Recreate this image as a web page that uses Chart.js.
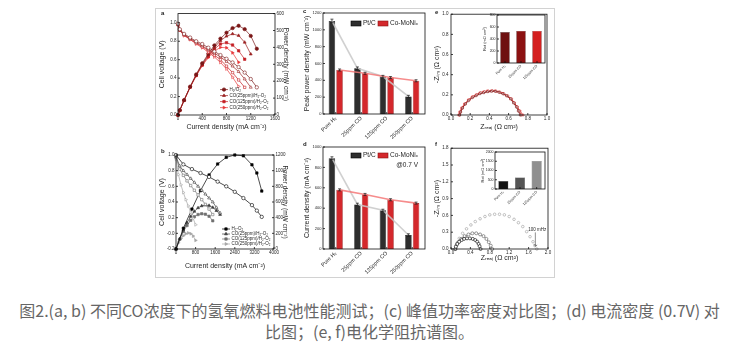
<!DOCTYPE html>
<html lang="zh">
<head>
<meta charset="UTF-8">
<title>CO tolerance figure</title>
<script src="https://cdn.jsdelivr.net/npm/chart.js"></script>
<style>
  body { margin: 0; width: 739px; height: 346px; background: #fff; position: relative; overflow: hidden; }
  #fig { position: absolute; left: 155px; top: 8px; width: 398px; height: 268px; border: 1px solid #d2d2d2; }
  canvas { position: absolute; }
  .tag { position: absolute; font: bold 6px "Liberation Sans", Arial, sans-serif; color: #222; }
  #cap { position: absolute; left: 0; top: 300px; width: 739px; text-align: center;
         font: 16px/21px "Noto Sans CJK SC", sans-serif; color: #666; }
</style>
</head>
<body>
<div id="fig"></div>
<canvas id="ca" width="140" height="134" style="left:156px;top:9px"></canvas>
<canvas id="cb" width="140" height="134" style="left:156px;top:143px"></canvas>
<canvas id="cc" width="140" height="134" style="left:290px;top:9px"></canvas>
<canvas id="cd" width="140" height="134" style="left:290px;top:143px"></canvas>
<canvas id="ce" width="125" height="134" style="left:430px;top:9px"></canvas>
<canvas id="cf" width="125" height="134" style="left:430px;top:143px"></canvas>
<canvas id="ce2" width="76" height="75" style="left:478px;top:10px"></canvas>
<canvas id="cf2" width="76" height="75" style="left:476px;top:147px"></canvas>
<div class="tag" style="left:161px;top:10px">a</div>
<div class="tag" style="left:161px;top:148px">b</div>
<div class="tag" style="left:303px;top:8px">c</div>
<div class="tag" style="left:303px;top:141px">d</div>
<div class="tag" style="left:435px;top:9px">e</div>
<div class="tag" style="left:435px;top:141px">f</div>
<div id="cap">图2.(a, b) 不同CO浓度下的氢氧燃料电池性能测试；(c) 峰值功率密度对比图；(d) 电流密度 (0.7V) 对<br>比图；(e, f)电化学阻抗谱图。</div>
<script>
// ---- panel a : Co-MoNix anode under different CO levels ----
const seriesA = ['H₂/O₂', 'CO(25ppm)/H₂-O₂', 'CO(125ppm)/H₂-O₂', 'CO(250ppm)/H₂-O₂'];
const aI0 = [0, 30, 100, 200, 300, 400, 500, 600, 700, 800, 900, 1000, 1100, 1200, 1300];
const aV0 = [0.99, 0.93, 0.88, 0.84, 0.80, 0.77, 0.73, 0.69, 0.65, 0.61, 0.57, 0.52, 0.46, 0.39, 0.30];
const aP0 = [0, 28, 88, 168, 240, 306, 362, 412, 452, 487, 514, 528, 508, 468, 392];
const aI1 = [0, 30, 100, 200, 300, 400, 500, 600, 700, 800, 900, 1000, 1100, 1200];
const aV1 = [0.98, 0.92, 0.87, 0.83, 0.79, 0.75, 0.71, 0.67, 0.63, 0.58, 0.53, 0.47, 0.39, 0.30];
const aP1 = [0, 28, 87, 166, 237, 300, 355, 400, 440, 466, 480, 470, 430, 360];
const aI2 = [0, 30, 100, 200, 300, 400, 500, 600, 700, 800, 900, 1000, 1100];
const aV2 = [0.98, 0.92, 0.87, 0.82, 0.78, 0.74, 0.70, 0.65, 0.60, 0.53, 0.46, 0.38, 0.30];
const aP2 = [0, 28, 87, 164, 234, 296, 348, 390, 420, 428, 414, 380, 330];
const aI3 = [0, 30, 100, 200, 300, 400, 500, 600, 700, 800, 900, 1000];
const aV3 = [0.98, 0.92, 0.86, 0.82, 0.77, 0.73, 0.68, 0.63, 0.57, 0.50, 0.41, 0.31];
const aP3 = [0, 28, 86, 164, 231, 292, 340, 378, 400, 398, 368, 312];

// ---- panel b : Pt/C anode ----
const seriesB = ['H₂-O₂', 'CO(25ppm)/H₂-O₂', 'CO(125ppm)/H₂-O₂', 'CO(250ppm)/H₂-O₂'];
const bI0 = [0, 300, 650, 1000, 1350, 1700, 2050, 2400, 2750, 3100, 3300, 3500];
const bV0 = [1.00, 0.88, 0.82, 0.77, 0.72, 0.66, 0.60, 0.53, 0.45, 0.36, 0.29, 0.21];
const bP0 = [0, 265, 510, 745, 945, 1085, 1170, 1200, 1190, 1075, 970, 740];
const bI1 = [0, 150, 300, 450, 600, 750, 900, 1050, 1200, 1350, 1500, 1650, 1800];
const bV1 = [0.98, 0.86, 0.80, 0.75, 0.70, 0.65, 0.60, 0.55, 0.50, 0.45, 0.40, 0.33, 0.26];
const bP1 = [0, 130, 240, 335, 415, 480, 525, 550, 560, 555, 530, 490, 440];
const bI2 = [0, 150, 300, 450, 600, 750, 900, 1050, 1200, 1350, 1500];
const bV2 = [0.97, 0.82, 0.74, 0.67, 0.61, 0.55, 0.49, 0.43, 0.37, 0.31, 0.24];
const bP2 = [0, 123, 222, 300, 366, 412, 440, 450, 444, 418, 360];
const bI3 = [0, 100, 200, 300, 400, 500, 600, 700, 800];
const bV3 = [0.95, 0.75, 0.62, 0.52, 0.43, 0.35, 0.27, 0.19, 0.11];
const bP3 = [0, 80, 135, 170, 195, 205, 195, 165, 110];

// ---- panels c, d : bar comparison ----
const barCats = ['Pure H₂', '25ppm CO', '125ppm CO', '250ppm CO'];
const barSeries = ['Pt/C', 'Co-MoNiₓ'];
const cPt = [1105, 543, 445, 208];
const cPtErr = [22, 16, 14, 14];
const cCo = [523, 484, 433, 395];
const cCoErr = [12, 12, 12, 12];
const dPt = [890, 437, 380, 137];
const dPtErr = [14, 12, 10, 12];
const dCo = [580, 535, 483, 450];
const dCoErr = [10, 10, 10, 10];

// ---- panel e : Nyquist, Co-MoNix ----
const eZr0 = [0.09, 0.10, 0.12, 0.15, 0.18, 0.22, 0.26, 0.30, 0.34, 0.38, 0.42, 0.46, 0.50, 0.54, 0.58, 0.62, 0.65, 0.68, 0.70, 0.72];
const eZi0 = [0.00, 0.03, 0.07, 0.11, 0.14, 0.17, 0.19, 0.21, 0.22, 0.23, 0.235, 0.235, 0.225, 0.21, 0.19, 0.16, 0.12, 0.08, 0.04, 0.00];
const eZr1 = [0.09, 0.10, 0.12, 0.15, 0.19, 0.23, 0.27, 0.31, 0.35, 0.39, 0.43, 0.47, 0.51, 0.55, 0.59, 0.63, 0.66, 0.69, 0.71, 0.73];
const eZi1 = [0.00, 0.03, 0.07, 0.11, 0.15, 0.18, 0.20, 0.22, 0.23, 0.235, 0.24, 0.235, 0.225, 0.21, 0.19, 0.16, 0.12, 0.08, 0.04, 0.00];
const eZr2 = [0.08, 0.09, 0.11, 0.14, 0.18, 0.22, 0.26, 0.30, 0.34, 0.38, 0.42, 0.46, 0.50, 0.54, 0.58, 0.62, 0.66, 0.69, 0.72, 0.75];
const eZi2 = [0.00, 0.03, 0.07, 0.11, 0.15, 0.18, 0.20, 0.22, 0.23, 0.24, 0.24, 0.24, 0.23, 0.215, 0.19, 0.16, 0.12, 0.08, 0.04, 0.00];

// ---- panel f : Nyquist, Pt/C ----
const fZr0 = [0.09, 0.10, 0.13, 0.17, 0.22, 0.27, 0.33, 0.39, 0.45, 0.50, 0.54, 0.57, 0.59, 0.61];
const fZi0 = [0.00, 0.04, 0.09, 0.13, 0.16, 0.18, 0.19, 0.19, 0.18, 0.16, 0.13, 0.09, 0.05, 0.00];
const fZr1 = [0.09, 0.11, 0.15, 0.21, 0.28, 0.36, 0.44, 0.52, 0.60, 0.67, 0.73, 0.78, 0.82, 0.85];
const fZi1 = [0.00, 0.06, 0.12, 0.18, 0.23, 0.26, 0.28, 0.28, 0.26, 0.23, 0.18, 0.12, 0.06, 0.00];
const fZr2 = [0.09, 0.12, 0.17, 0.24, 0.32, 0.41, 0.50, 0.60, 0.70, 0.80, 0.90, 1.00, 1.10, 1.20, 1.30, 1.39, 1.48, 1.56, 1.63, 1.69, 1.73, 1.77];
const fZi2 = [0.00, 0.10, 0.19, 0.28, 0.36, 0.43, 0.49, 0.54, 0.58, 0.61, 0.62, 0.62, 0.61, 0.58, 0.53, 0.47, 0.40, 0.31, 0.22, 0.13, 0.06, 0.00];
const fNote = { text: '100 mHz', x: 1.78, y: 0.35, tipX: 1.74, tipY: 0.05 };

// ---- insets : charge-transfer resistance ----
const insetCats = ['Pure H₂', '25ppm CO', '125ppm CO'];
const eRct = [515, 535, 535];
const fRct = [430, 620, 1520];

const FONT = '"Liberation Sans", Arial, sans-serif';
const INK = '#262626';
const reds = ['#7a1717', '#9b2020', '#c41e24', '#e8383a'];
const greys = ['#000000', '#3c3c3c', '#707070', '#a5a5a5'];
const shapes = ['circle', 'triangle', 'rect', 'triangle'];
const turns = [0, 0, 0, 90];

// plot box with inward ticks, like Origin
const frame = {
  id: 'frame',
  afterDraw(chart) {
    const ctx = chart.ctx, a = chart.chartArea;
    ctx.save();
    ctx.strokeStyle = '#111';
    ctx.lineWidth = 0.8;
    ctx.strokeRect(a.left, a.top, a.right - a.left, a.bottom - a.top);
    Object.values(chart.scales).forEach(s => {
      s.ticks.forEach((t, i) => {
        const p = s.getPixelForTick(i);
        ctx.beginPath();
        if (s.position === 'left') { ctx.moveTo(a.left, p); ctx.lineTo(a.left + 2, p); }
        else if (s.position === 'right') { ctx.moveTo(a.right, p); ctx.lineTo(a.right - 2, p); }
        else { ctx.moveTo(p, a.bottom); ctx.lineTo(p, a.bottom - 2); }
        ctx.stroke();
      });
    });
    ctx.restore();
  }
};

// small legends drawn inside the plot area
const keyLegend = {
  id: 'keyLegend',
  afterDraw(chart, args, o) {
    if (!o || !o.items) return;
    const ctx = chart.ctx, area = chart.chartArea;
    ctx.save();
    ctx.font = (o.size || 4.5) + 'px ' + FONT;
    ctx.textBaseline = 'middle';
    o.items.forEach(it => {
      const x = area.left + it.x, y = area.top + it.y;
      let tx = x;
      if (it.ds !== undefined) {
        const ds = chart.data.datasets[it.ds];
        ctx.strokeStyle = ds.borderColor;
        ctx.lineWidth = 0.7;
        ctx.beginPath(); ctx.moveTo(x, y); ctx.lineTo(x + o.w, y); ctx.stroke();
        ctx.fillStyle = ds.pointBackgroundColor;
        ctx.strokeStyle = ds.pointBorderColor;
        Chart.helpers.drawPoint(ctx, { pointStyle: ds.pointStyle, rotation: ds.pointRotation,
          radius: ds.pointRadius, borderWidth: ds.pointBorderWidth }, x + o.w / 2, y);
        tx = x + o.w + 1.5;
      } else if (it.box) {
        ctx.fillStyle = it.box;
        ctx.fillRect(x, y - o.h / 2, o.w, o.h);
        ctx.strokeStyle = it.edge;
        ctx.lineWidth = 0.6;
        ctx.strokeRect(x, y - o.h / 2, o.w, o.h);
        tx = x + o.w + 2;
      }
      ctx.fillStyle = INK;
      ctx.textAlign = it.align || 'left';
      ctx.fillText(it.text, tx, y);
    });
    ctx.restore();
  }
};

// trend lines through bar tops and error bars
const barMarks = {
  id: 'barMarks',
  afterDatasetsDraw(chart) {
    const ctx = chart.ctx;
    ctx.save();
    chart.data.datasets.forEach((ds, i) => {
      if (!ds.trend) return;
      const meta = chart.getDatasetMeta(i);
      ctx.strokeStyle = ds.trend;
      ctx.lineWidth = 1.6;
      ctx.beginPath();
      meta.data.forEach((b, j) => j ? ctx.lineTo(b.x, b.y) : ctx.moveTo(b.x, b.y));
      ctx.stroke();
    });
    chart.data.datasets.forEach((ds, i) => {
      if (!ds.err) return;
      const meta = chart.getDatasetMeta(i);
      const ys = chart.scales[meta.yAxisID];
      ctx.strokeStyle = '#1a1a1a';
      ctx.lineWidth = 0.7;
      meta.data.forEach((b, j) => {
        const t = ys.getPixelForValue(ds.data[j] + ds.err[j]);
        const u = ys.getPixelForValue(ds.data[j] - ds.err[j]);
        ctx.beginPath();
        ctx.moveTo(b.x, t); ctx.lineTo(b.x, u);
        ctx.moveTo(b.x - 1.5, t); ctx.lineTo(b.x + 1.5, t);
        ctx.moveTo(b.x - 1.5, u); ctx.lineTo(b.x + 1.5, u);
        ctx.stroke();
      });
    });
    ctx.restore();
  }
};

Chart.register(frame, keyLegend, barMarks);

function ax(o) {
  const vertical = o.pos === 'left' || o.pos === 'right';
  const a = {
    type: o.type || 'linear',
    position: o.pos,
    grid: { display: false, drawTicks: false },
    border: { display: false },
    ticks: {
      padding: o.tpad !== undefined ? o.tpad : 1.5,
      color: INK,
      font: { family: FONT, size: o.fs || 4.5 },
      autoSkip: false,
      maxRotation: o.rot || 0,
      minRotation: o.rot || 0
    },
    title: {
      display: !!o.title,
      text: o.title || '',
      color: INK,
      font: { family: FONT, size: o.tfs || 7 },
      padding: vertical ? { top: o.tp || 0, bottom: 0 } : { top: 0, bottom: o.tp || 0 }
    },
    afterFit: s => { if (vertical) s.width = o.size; else s.height = o.size; }
  };
  if (a.type === 'linear') {
    a.min = o.min;
    a.max = o.max;
    a.ticks.stepSize = o.step;
    a.ticks.includeBounds = false;
    a.ticks.callback = v => v.toFixed(o.dec);
  }
  return a;
}

function curve(xs, ys, axis, color, shape, rot, filled, r) {
  return {
    data: xs.map((x, i) => ({ x: x, y: ys[i] })),
    yAxisID: axis,
    borderColor: color,
    borderWidth: 0.7,
    pointStyle: shape,
    pointRotation: rot,
    pointRadius: r || 1.7,
    pointBorderWidth: 0.6,
    pointBorderColor: color,
    pointBackgroundColor: filled ? color : '#ffffff',
    tension: 0,
    clip: 3
  };
}

function opts(scales, pad, extra) {
  return {
    responsive: false,
    animation: false,
    events: [],
    layout: { padding: pad },
    scales: scales,
    plugins: Object.assign({ legend: { display: false }, tooltip: { enabled: false } }, extra || {})
  };
}

// ---------- a ----------
const aI = [aI0, aI1, aI2, aI3], aV = [aV0, aV1, aV2, aV3], aP = [aP0, aP1, aP2, aP3];
const aSets = [];
for (let k = 0; k < 4; k++) aSets.push(curve(aI[k], aV[k], 'y', reds[k], shapes[k], turns[k], false));
for (let k = 0; k < 4; k++) aSets.push(curve(aI[k], aP[k], 'y1', reds[k], shapes[k], turns[k], true));
new Chart(document.getElementById('ca'), {
  type: 'line',
  data: { datasets: aSets },
  options: opts({
    x: ax({ pos: 'bottom', min: 0, max: 1600, step: 400, dec: 0, size: 28, title: 'Current density (mA cm⁻²)', tp: 11.8 }),
    y: ax({ pos: 'left', min: 0, max: 1.1, step: 0.2, dec: 1, size: 22, title: 'Cell voltage (V)', tp: 1.8 }),
    y1: ax({ pos: 'right', min: 0, max: 600, step: 100, dec: 0, size: 21, title: 'Power density (mW cm⁻²)', tfs: 6.5, tp: 6 })
  }, { top: 4 }, {
    keyLegend: { w: 8, items: seriesA.map((t, k) => ({ ds: 4 + k, text: t, x: 42, y: 76 + 6 * k })) }
  })
});

// ---------- b ----------
const bI = [bI0, bI1, bI2, bI3], bV = [bV0, bV1, bV2, bV3], bP = [bP0, bP1, bP2, bP3];
const bSets = [];
for (let k = 0; k < 4; k++) bSets.push(curve(bI[k], bV[k], 'y', greys[k], shapes[k], turns[k], false));
for (let k = 0; k < 4; k++) bSets.push(curve(bI[k], bP[k], 'y1', greys[k], k ? shapes[k] : 'rect', turns[k], true));
new Chart(document.getElementById('cb'), {
  type: 'line',
  data: { datasets: bSets },
  options: opts({
    x: ax({ pos: 'bottom', min: 0, max: 4000, step: 800, dec: 0, size: 28, title: 'Current density (mA cm⁻²)', tp: 6.8 }),
    y: ax({ pos: 'left', min: -0.2, max: 1.0, step: 0.2, dec: 1, size: 20, title: 'Cell voltage (V)', tp: 1.8 }),
    y1: ax({ pos: 'right', min: 0, max: 1200, step: 200, dec: 0, size: 22, title: 'Power density (mW cm⁻²)', tfs: 6.5, tp: 7 })
  }, { top: 12 }, {
    keyLegend: { w: 8, items: seriesB.map((t, k) => ({ ds: 4 + k, text: t, x: 46, y: 74 + 5 * k })) }
  })
});

// ---------- c, d ----------
function bars(vals, err, fill, edge, trend, label) {
  return { label: label, data: vals, err: err, trend: trend, backgroundColor: fill, borderColor: edge,
           borderWidth: 0.6, barPercentage: 0.85, categoryPercentage: 0.6 };
}
function barLegend(y, extra) {
  const items = [
    { box: '#2e2e2e', edge: '#000', text: barSeries[0], x: 28, y: y },
    { box: '#d4282c', edge: '#8a1212', text: barSeries[1], x: 55, y: y }
  ];
  return { size: 6.5, w: 10, h: 5, items: items.concat(extra || []) };
}
new Chart(document.getElementById('cc'), {
  type: 'bar',
  data: { labels: barCats, datasets: [
    bars(cPt, cPtErr, '#2e2e2e', '#000', 'rgba(200,200,200,0.85)', barSeries[0]),
    bars(cCo, cCoErr, '#d4282c', '#8a1212', 'rgba(245,120,120,0.85)', barSeries[1])
  ] },
  options: opts({
    x: ax({ type: 'category', pos: 'bottom', size: 29, fs: 5.5, rot: 45, tpad: 1 }),
    y: ax({ pos: 'left', min: 0, max: 1200, step: 200, dec: 0, size: 33, fs: 4, title: 'Peak power density (mW cm⁻²)', tp: 12.8 })
  }, { top: 4, right: 5 }, { keyLegend: barLegend(10.5) })
});
new Chart(document.getElementById('cd'), {
  type: 'bar',
  data: { labels: barCats, datasets: [
    bars(dPt, dPtErr, '#2e2e2e', '#000', 'rgba(200,200,200,0.85)', barSeries[0]),
    bars(dCo, dCoErr, '#d4282c', '#8a1212', 'rgba(245,120,120,0.85)', barSeries[1])
  ] },
  options: opts({
    x: ax({ type: 'category', pos: 'bottom', size: 28, fs: 5.5, rot: 45, tpad: 1 }),
    y: ax({ pos: 'left', min: 0, max: 1000, step: 200, dec: 0, size: 33, fs: 4, title: 'Current density (mA cm⁻²)', tp: 12.8 })
  }, { top: 4, right: 5 }, { keyLegend: barLegend(8.5, [{ text: '@0.7 V', x: 95, y: 18, align: 'right' }]) })
});

// ---------- e ----------
new Chart(document.getElementById('ce'), {
  type: 'line',
  data: { datasets: [
    curve(eZr0, eZi0, 'y', '#7a1212', 'rect', 0, false, 1.2),
    curve(eZr1, eZi1, 'y', '#b01818', 'circle', 0, false, 1.2),
    curve(eZr2, eZi2, 'y', '#e52222', 'rect', 0, false, 1.2)
  ] },
  options: opts({
    x: ax({ pos: 'bottom', min: 0, max: 1.0, step: 0.2, dec: 1, size: 28, title: 'Zᵣₑₐₗ (Ω cm²)', tp: 11.8 }),
    y: ax({ pos: 'left', min: 0, max: 1.0, step: 0.2, dec: 1, size: 21, tpad: 2.5, title: '-Zᵢₘ (Ω cm²)', tp: 2.8 })
  }, { top: 4, right: 8 })
});
new Chart(document.getElementById('ce2'), {
  type: 'bar',
  data: { labels: insetCats, datasets: [{ data: eRct, backgroundColor: ['#6e1010', '#8c1111', '#d42020'],
    borderColor: '#333', borderWidth: 0.4, barPercentage: 0.6, categoryPercentage: 1 }] },
  options: opts({
    x: ax({ type: 'category', pos: 'bottom', size: 22, fs: 3.5, rot: 45, tpad: 1 }),
    y: ax({ pos: 'left', min: 0, max: 800, step: 200, dec: 0, size: 19, fs: 3.5, tpad: 1.5, title: 'Rct (mΩ cm²)', tfs: 4, tp: 4.6 })
  }, { top: 5, right: 9 })
});

// ---------- f ----------
const fSets = [
  curve(fZr0, fZi0, 'y', '#000000', 'circle', 0, false, 1.5),
  curve(fZr1, fZi1, 'y', '#555555', 'circle', 0, false, 1.5),
  curve(fZr2, fZi2, 'y', '#9a9a9a', 'circle', 0, false, 1.3)
];
fSets[2].showLine = false;
new Chart(document.getElementById('cf'), {
  type: 'line',
  data: { datasets: fSets },
  options: opts({
    x: ax({ pos: 'bottom', min: 0, max: 2.0, step: 0.4, dec: 1, size: 28, title: 'Zᵣₑₐₗ (Ω cm²)', tp: 14.8 }),
    y: ax({ pos: 'left', min: 0, max: 1.8, step: 0.3, dec: 1, size: 21, tpad: 2.5, title: '-Zᵢₘ (Ω cm²)', tp: 2.8 })
  }, { top: 5, right: 7 }),
  plugins: [{
    id: 'mhz',
    afterDraw(chart) {
      const x = chart.scales.x, y = chart.scales.y, ctx = chart.ctx;
      const lx = x.getPixelForValue(fNote.x), ly = y.getPixelForValue(fNote.y);
      const tx = x.getPixelForValue(fNote.tipX), ty = y.getPixelForValue(fNote.tipY);
      ctx.save();
      ctx.font = '4.5px ' + FONT;
      ctx.fillStyle = INK;
      ctx.textAlign = 'center';
      ctx.textBaseline = 'middle';
      ctx.fillText(fNote.text, lx, ly);
      ctx.strokeStyle = '#444';
      ctx.lineWidth = 0.6;
      ctx.beginPath();
      ctx.moveTo(lx - 2, ly + 3); ctx.lineTo(tx, ty);
      ctx.moveTo(tx - 1.5, ty - 2); ctx.lineTo(tx, ty); ctx.lineTo(tx + 1.8, ty - 1.2);
      ctx.stroke();
      ctx.restore();
    }
  }]
});
new Chart(document.getElementById('cf2'), {
  type: 'bar',
  data: { labels: insetCats, datasets: [{ data: fRct, backgroundColor: ['#111111', '#555555', '#8f8f8f'],
    borderColor: '#333', borderWidth: 0.4, barPercentage: 0.6, categoryPercentage: 1 }] },
  options: opts({
    x: ax({ type: 'category', pos: 'bottom', size: 33, fs: 3.5, rot: 45, tpad: 1 }),
    y: ax({ pos: 'left', min: 0, max: 2000, step: 500, dec: 0, size: 19, fs: 3.5, tpad: 1.5, title: 'Rct (mΩ cm²)', tfs: 4, tp: 4.6 })
  }, { top: 5, right: 7 })
});
</script>
</body>
</html>
